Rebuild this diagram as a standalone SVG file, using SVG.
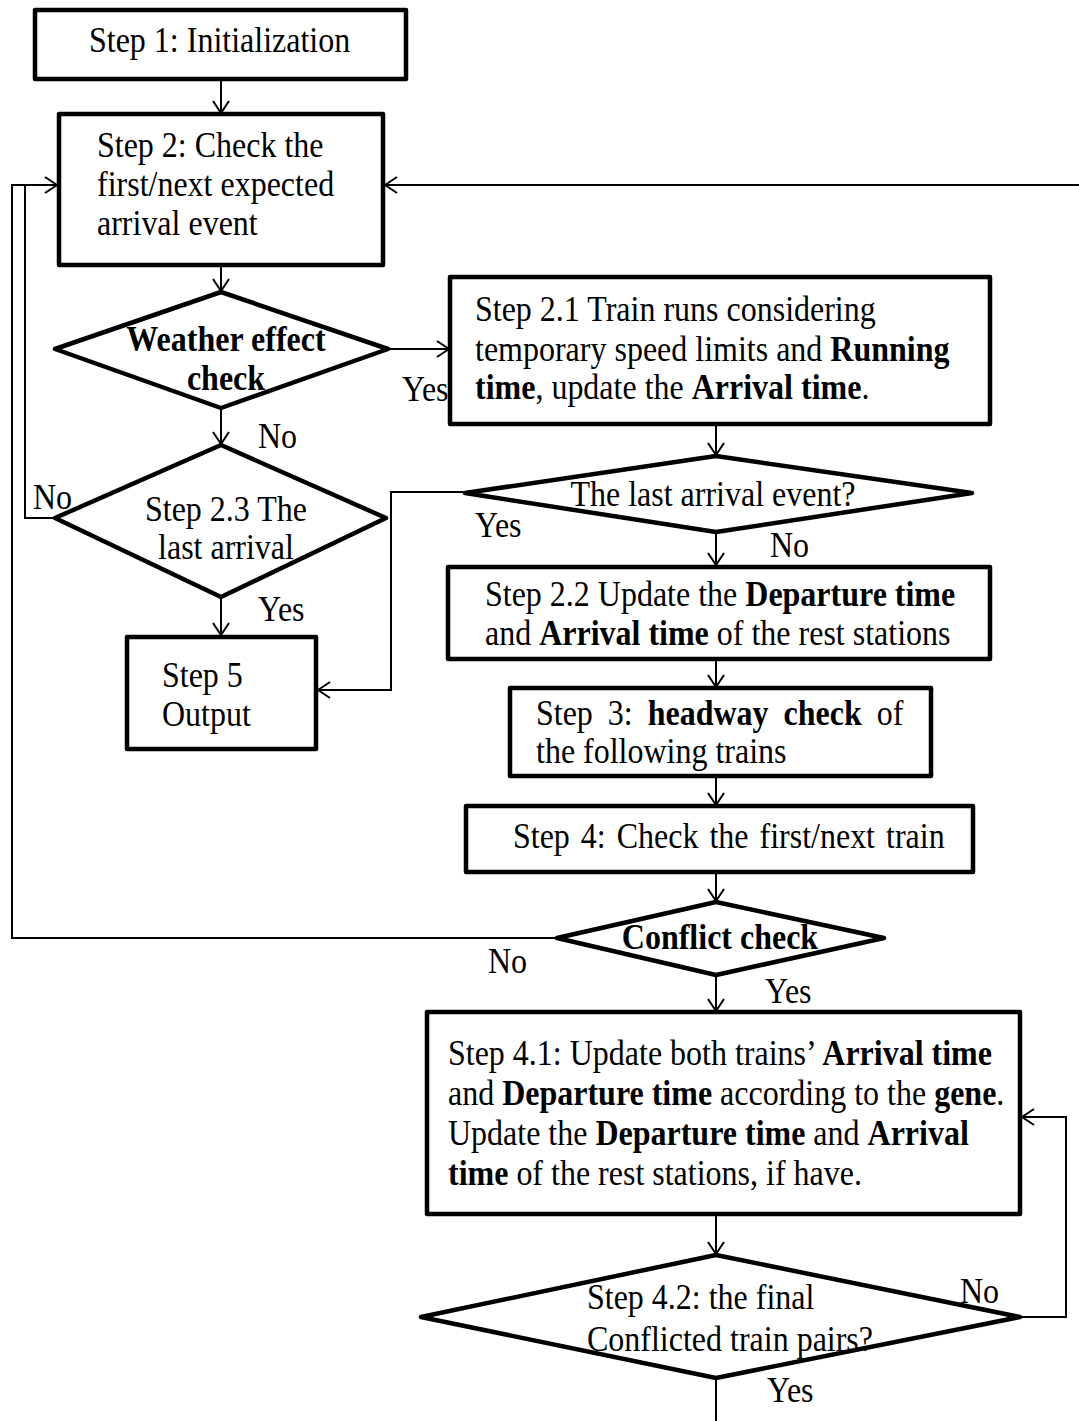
<svg xmlns="http://www.w3.org/2000/svg" width="1079" height="1421" viewBox="0 0 1079 1421">
<style>
.box{fill:#fff;stroke:#000;stroke-width:4.5;stroke-linejoin:round}
.ln{fill:none;stroke:#000;stroke-width:2}
.t{font-family:"Liberation Serif","Times New Roman",serif;font-size:32px;fill:#000;transform-box:fill-box;transform-origin:center;transform:scaleY(1.1)}
.b{font-weight:bold}
.m{text-anchor:middle}
</style>
<defs>
<marker id="ah" viewBox="0 0 14 18" refX="13" refY="9" markerWidth="14" markerHeight="18" markerUnits="userSpaceOnUse" orient="auto">
<path d="M1,1 L13,9 L1,17" fill="none" stroke="#000" stroke-width="2"/>
</marker>
</defs>
<g id="connectors">
<line class="ln" x1="221" y1="80" x2="221" y2="113" marker-end="url(#ah)"/>
<line class="ln" x1="221" y1="266" x2="221" y2="291" marker-end="url(#ah)"/>
<line class="ln" x1="388" y1="349" x2="449" y2="349" marker-end="url(#ah)"/>
<line class="ln" x1="221" y1="408" x2="221" y2="444" marker-end="url(#ah)"/>
<line class="ln" x1="221" y1="598" x2="221" y2="635" marker-end="url(#ah)"/>
<polyline class="ln" points="55,518 25,518 25,185"/>
<polyline class="ln" points="557,938 12,938 12,185 57,185" marker-end="url(#ah)"/>
<line class="ln" x1="1079" y1="185" x2="385" y2="185" marker-end="url(#ah)"/>
<polyline class="ln" points="465,492 391,492 391,690 318,690" marker-end="url(#ah)"/>
<line class="ln" x1="716" y1="425" x2="716" y2="455" marker-end="url(#ah)"/>
<line class="ln" x1="716" y1="532" x2="716" y2="565" marker-end="url(#ah)"/>
<line class="ln" x1="716" y1="660" x2="716" y2="687" marker-end="url(#ah)"/>
<line class="ln" x1="716" y1="777" x2="716" y2="805" marker-end="url(#ah)"/>
<line class="ln" x1="716" y1="873" x2="716" y2="901" marker-end="url(#ah)"/>
<line class="ln" x1="716" y1="976" x2="716" y2="1011" marker-end="url(#ah)"/>
<line class="ln" x1="716" y1="1215" x2="716" y2="1254" marker-end="url(#ah)"/>
<polyline class="ln" points="1020,1317 1066,1317 1066,1117 1022,1117" marker-end="url(#ah)"/>
<line class="ln" x1="716" y1="1378" x2="716" y2="1421"/>
</g>
<g id="n1"><rect class="box" x="35" y="10" width="371" height="69"/>
<text class="t" x="89" y="51">Step 1: Initialization</text></g>
<g id="n2"><rect class="box" x="59" y="114" width="324" height="151"/>
<text class="t" x="97" y="156">Step 2: Check the</text>
<text class="t" x="97" y="195">first/next expected</text>
<text class="t" x="97" y="234">arrival event</text></g>
<g id="d1"><polygon class="box" points="221,292 388,349 221,408 55,349"/>
<text class="t b m" x="226" y="350">Weather effect</text>
<text class="t b m" x="226" y="389">check</text></g>
<g id="n21"><rect class="box" x="450" y="277" width="540" height="147"/>
<text class="t" x="475" y="320">Step 2.1 Train runs considering</text>
<text class="t" x="475" y="360">temporary speed limits and <tspan class="b">Running</tspan></text>
<text class="t" x="475" y="398"><tspan class="b">time</tspan>, update the <tspan class="b">Arrival time</tspan>.</text></g>
<g id="d23"><polygon class="box" points="221,445 386,518 221,597 55,518"/>
<text class="t m" x="226" y="520">Step 2.3 The</text>
<text class="t m" x="226" y="558">last arrival</text></g>
<g id="n5"><rect class="box" x="127" y="637" width="189" height="112"/>
<text class="t" x="162" y="686">Step 5</text>
<text class="t" x="162" y="725">Output</text></g>
<g id="d2"><polygon class="box" points="716,456 972,493 716,532 465,493"/>
<text class="t m" x="713" y="505">The last arrival event?</text></g>
<g id="n22"><rect class="box" x="448" y="567" width="542" height="92"/>
<text class="t" x="485" y="605">Step 2.2 Update the <tspan class="b">Departure time</tspan></text>
<text class="t" x="485" y="644">and <tspan class="b">Arrival time</tspan> of the rest stations</text></g>
<g id="n3"><rect class="box" x="510" y="688" width="421" height="88"/>
<text class="t" x="536" y="724" word-spacing="7">Step 3: <tspan class="b">headway check</tspan> of</text>
<text class="t" x="536" y="762">the following trains</text></g>
<g id="n4"><rect class="box" x="466" y="806" width="507" height="66"/>
<text class="t" x="513" y="847" word-spacing="3">Step 4: Check the first/next train</text></g>
<g id="d3"><polygon class="box" points="716,902 884,938 716,975 557,938"/>
<text class="t b m" x="720" y="948">Conflict check</text></g>
<g id="n41"><rect class="box" x="427" y="1012" width="593" height="202"/>
<text class="t" x="448" y="1064">Step 4.1: Update both trains’ <tspan class="b">Arrival time</tspan></text>
<text class="t" x="448" y="1104">and <tspan class="b">Departure time</tspan> according to the <tspan class="b">gene</tspan>.</text>
<text class="t" x="448" y="1144">Update the <tspan class="b">Departure time</tspan> and <tspan class="b">Arrival</tspan></text>
<text class="t" x="448" y="1184"><tspan class="b">time</tspan> of the rest stations, if have.</text></g>
<g id="d42"><polygon class="box" points="716,1255 1020,1317 716,1378 421,1317"/>
<text class="t" x="587" y="1308">Step 4.2: the final</text>
<text class="t" x="587" y="1350">Conflicted train pairs?</text></g>
<g id="labels">
<text class="t" x="402" y="400">Yes</text>
<text class="t" x="258" y="447">No</text>
<text class="t" x="33" y="508">No</text>
<text class="t" x="258" y="620">Yes</text>
<text class="t" x="475" y="536">Yes</text>
<text class="t" x="770" y="556">No</text>
<text class="t" x="488" y="972">No</text>
<text class="t" x="765" y="1002">Yes</text>
<text class="t" x="960" y="1302">No</text>
<text class="t" x="767" y="1401">Yes</text>
</g>
</svg>
